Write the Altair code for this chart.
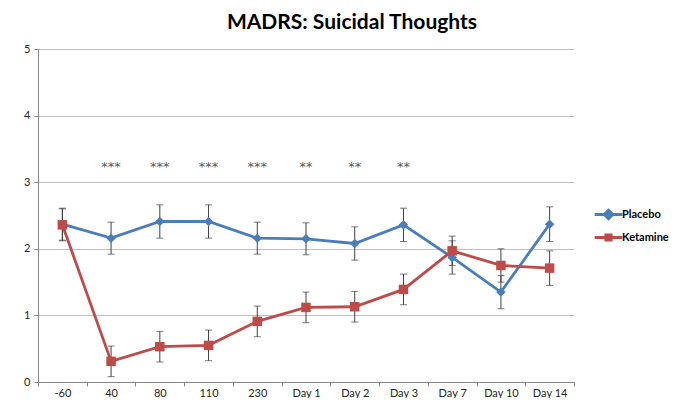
import altair as alt
import pandas as pd

categories = ["-60", "40", "80", "110", "230", "Day 1", "Day 2", "Day 3", "Day 7", "Day 10", "Day 14"]
placebo = [2.37, 2.16, 2.41, 2.41, 2.16, 2.15, 2.08, 2.36, 1.87, 1.35, 2.37]
placebo_err = [0.24, 0.24, 0.25, 0.25, 0.24, 0.24, 0.25, 0.25, 0.25, 0.25, 0.26]
ketamine = [2.36, 0.31, 0.53, 0.55, 0.91, 1.12, 1.13, 1.39, 1.97, 1.75, 1.71]
ketamine_err = [0.24, 0.23, 0.23, 0.23, 0.23, 0.23, 0.23, 0.23, 0.22, 0.25, 0.26]
sig_categories = ["40", "80", "110", "230", "Day 1", "Day 2", "Day 3"]
sig_labels = ["***", "***", "***", "***", "**", "**", "**"]
sig_level = 3.28

series_names = ["Placebo", "Ketamine"]
series_colors = ["#4A7EBB", "#BE4B48"]

rows = []
for name, vals, errs in [("Placebo", placebo, placebo_err), ("Ketamine", ketamine, ketamine_err)]:
    for c, v, e in zip(categories, vals, errs):
        rows.append({"cat": c, "series": name, "value": v, "lo": v - e, "hi": v + e})
df = pd.DataFrame(rows)
sig_df = pd.DataFrame({"cat": sig_categories, "label": sig_labels, "y": [sig_level] * len(sig_categories)})

FONT = "Lato"

x_enc = alt.X(
    "cat:N",
    sort=categories,
    scale=alt.Scale(type="band", paddingInner=0, paddingOuter=0, domain=categories),
    axis=alt.Axis(
        title=None, labelAngle=0, tickBand="extent", grid=False,
        domainColor="#868686", tickColor="#868686", tickSize=4,
        labelPadding=1, labelFontSize=11, labelColor="#262626", labelFont=FONT,
    ),
)
y_scale = alt.Scale(domain=[0, 5], nice=False, zero=True)
y_axis = alt.Axis(
    title=None, values=[0, 1, 2, 3, 4, 5], format="d", grid=True, gridColor="#C0C0C0",
    domainColor="#868686", tickColor="#868686", tickSize=4, labelPadding=4,
    labelFontSize=11, labelColor="#262626", labelFont=FONT,
)
color_scale = alt.Scale(domain=series_names, range=series_colors)

base = alt.Chart(df)

err_rule = base.mark_rule(color="#404040", strokeWidth=1).encode(
    x=x_enc,
    y=alt.Y("lo:Q", scale=y_scale, axis=y_axis),
    y2="hi:Q",
    detail="series:N",
)
cap_lo = base.mark_tick(color="#404040", orient="horizontal", size=7, thickness=1).encode(
    x=x_enc, y=alt.Y("lo:Q", scale=y_scale), detail="series:N"
)
cap_hi = base.mark_tick(color="#404040", orient="horizontal", size=7, thickness=1).encode(
    x=x_enc, y=alt.Y("hi:Q", scale=y_scale), detail="series:N"
)

lines = base.mark_line(strokeWidth=2.8).encode(
    x=x_enc,
    y=alt.Y("value:Q", scale=y_scale),
    color=alt.Color("series:N", scale=color_scale, legend=None),
    order=alt.Order("series:N"),
)

points = base.mark_point(filled=True, opacity=1, size=90).encode(
    x=x_enc,
    y=alt.Y("value:Q", scale=y_scale),
    color=alt.Color("series:N", scale=color_scale, legend=None),
    shape=alt.Shape("series:N", scale=alt.Scale(domain=series_names, range=["diamond", "square"]), legend=None),
)

# legend symbols: a line with the marker drawn by stroked segments
legend_paths = [
    "M-1.6,0H1.6M0,-0.5L0.5,0L0,0.5L-0.5,0ZM0,-0.4V0.4M-0.25,-0.15H0.25M-0.25,0.15H0.25",
    "M-1.6,0H1.6M-0.47,-0.3H0.47M-0.47,0.3H0.47",
]
legend_props = dict(
    title=None, orient="none", legendX=560, legendY=155,
    symbolSize=300, symbolStrokeWidth=2.8, labelOffset=3, rowPadding=2,
    labelFont=FONT, labelFontSize=11, labelFontWeight="bold", labelColor="#000000",
    padding=0,
)
legend_layer = base.transform_filter("false").mark_point(filled=False, strokeWidth=2.8, opacity=1).encode(
    x=x_enc,
    y=alt.Y("value:Q", scale=y_scale),
    color=alt.Color("series:N", scale=color_scale, legend=alt.Legend(**legend_props)),
    shape=alt.Shape(
        "series:N",
        scale=alt.Scale(domain=series_names, range=legend_paths),
        legend=alt.Legend(**legend_props),
    ),
)

stars = alt.Chart(sig_df).mark_text(
    fontSize=13, fill="#595959", color="#595959", font="DejaVu Sans", baseline="middle", dy=3
).encode(
    x=x_enc,
    y=alt.Y("y:Q", scale=y_scale),
    text="label:N",
)

chart = alt.layer(err_rule, cap_lo, cap_hi, lines, points, stars, legend_layer).resolve_scale(
    shape="independent", color="independent"
).properties(
    width=536,
    height=333,
    autosize=alt.AutoSizeParams(type="none"),
    padding={"left": 30, "top": 41, "right": 95, "bottom": 16},
    title=alt.TitleParams(
        "MADRS: Suicidal Thoughts", font="Lato", fontSize=21, fontWeight="bold",
        color="#000000", anchor="middle", dx=46, offset=10,
    ),
).configure_view(stroke=None)

chart.save("out.html", embed_options={"renderer": "svg", "actions": False})
